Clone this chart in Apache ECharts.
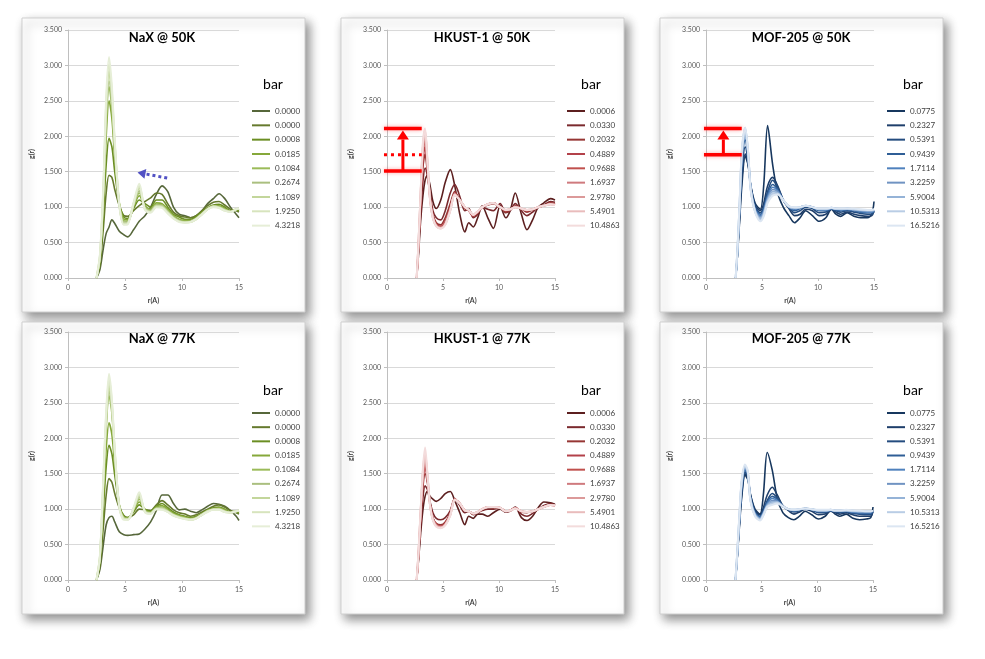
<!DOCTYPE html>
<html><head><meta charset="utf-8">
<script src="https://cdn.jsdelivr.net/npm/echarts@6/dist/echarts.min.js"></script>
<style>html,body{margin:0;padding:0;background:#fff}#c{width:985px;height:659px}</style>
</head><body><div id="c"></div>
<script>
// ---------- data ----------
const NAX_BAR = ['0.0000','0.0000 ','0.0008','0.0185','0.1084','0.2674','1.1089','1.9250','4.3218'];
const HKUST_BAR = ['0.0006','0.0330','0.2032','0.4889','0.9688','1.6937','2.9780','5.4901','10.4863'];
const MOF_BAR = ['0.0775','0.2327','0.5391','0.9439','1.7114','3.2259','5.9004','10.5313','16.5216'];

const NAX_X = [2.5,2.8,3.1,3.35,3.6,3.85,4.1,4.5,4.9,5.25,5.75,6.25,6.75,7.25,7.75,8.25,8.75,9.25,9.75,10.25,10.75,11.25,11.75,12.25,12.75,13.25,13.75,14.25,14.75,15];
const HKUST_X = [2.65,2.8,3.0,3.2,3.4,3.6,3.85,4.1,4.4,4.8,5.2,5.65,6.05,6.5,6.95,7.3,7.7,8.1,8.5,9.0,9.5,10.1,10.6,11.0,11.45,12.0,12.5,13.0,13.5,14.0,14.6,15.0];
const MOF_X = [2.65,2.8,3.0,3.2,3.5,3.75,4.0,4.4,4.85,5.15,5.5,5.95,6.4,6.9,7.4,7.9,8.4,8.9,9.5,10.1,10.7,11.2,11.6,12.0,12.6,13.2,13.8,14.4,14.8,15.0];

const N50_1 = [0,0.12,0.42,0.63,0.72,0.82,0.77,0.66,0.61,0.58,0.68,0.8,0.88,1.0,1.18,1.3,1.22,1.0,0.9,0.88,0.85,0.88,0.95,1.05,1.12,1.19,1.12,1.0,0.9,0.85];
const N50_2 = [0,0.18,0.7,1.2,1.45,1.42,1.25,1.02,0.88,0.87,0.95,1.02,1.08,1.13,1.2,1.18,1.05,0.93,0.88,0.86,0.85,0.88,0.95,1.02,1.07,1.08,1.03,0.97,0.95,0.93];
const N50_3 = [0,0.22,0.9,1.6,1.97,1.85,1.5,1.05,0.86,0.84,0.98,1.1,1.05,1.0,1.1,1.1,1.0,0.9,0.86,0.83,0.83,0.87,0.93,0.99,1.03,1.04,1.0,0.95,0.96,0.95];
const N50_4 = [0,0.25,1.05,2.0,2.5,2.25,1.7,1.05,0.83,0.82,1.0,1.16,1.02,0.97,1.06,1.05,0.97,0.88,0.83,0.81,0.81,0.85,0.92,0.98,1.02,1.02,0.98,0.94,0.96,0.97];
const N50_5 = [0,0.27,1.12,2.18,2.7,2.4,1.8,1.05,0.81,0.8,1.02,1.2,1.0,0.96,1.04,1.03,0.95,0.87,0.82,0.8,0.8,0.84,0.91,0.98,1.02,1.01,0.97,0.94,0.97,0.98];
const N50_6 = [0,0.28,1.15,2.25,2.78,2.45,1.82,1.04,0.79,0.79,1.03,1.23,0.99,0.95,1.03,1.02,0.94,0.86,0.81,0.79,0.8,0.84,0.91,0.98,1.02,1.0,0.96,0.94,0.97,0.98];
const N50_7 = [0,0.3,1.2,2.35,2.92,2.55,1.88,1.04,0.77,0.78,1.04,1.27,0.98,0.94,1.02,1.01,0.93,0.85,0.8,0.79,0.79,0.83,0.9,0.97,1.01,1.0,0.96,0.94,0.97,0.98];
const N50_8 = [0,0.31,1.25,2.45,3.02,2.62,1.9,1.03,0.76,0.77,1.05,1.3,0.97,0.93,1.01,1.0,0.92,0.84,0.8,0.78,0.79,0.83,0.9,0.97,1.01,0.99,0.95,0.93,0.97,0.98];
const N50_9 = [0,0.33,1.3,2.55,3.12,2.7,1.95,1.03,0.75,0.76,1.06,1.33,0.96,0.92,1.0,0.99,0.91,0.84,0.79,0.78,0.79,0.83,0.9,0.97,1.0,0.99,0.95,0.93,0.97,0.98];

const N77_1 = [0,0.15,0.5,0.78,0.88,0.9,0.82,0.68,0.64,0.63,0.64,0.65,0.72,0.82,0.98,1.2,1.2,1.08,0.99,1.0,0.97,0.95,0.99,1.04,1.08,1.07,1.04,0.98,0.9,0.84];
const N77_2 = [0,0.2,0.75,1.2,1.43,1.38,1.22,1.02,0.91,0.88,0.92,1.0,0.99,0.98,1.06,1.12,1.06,0.99,0.95,0.93,0.9,0.92,0.96,1.0,1.04,1.06,1.03,0.98,0.95,0.93];
const N77_3 = [0,0.25,1.0,1.6,1.9,1.78,1.48,1.06,0.9,0.88,0.96,1.06,1.0,0.97,1.04,1.08,1.02,0.96,0.92,0.9,0.88,0.9,0.94,0.99,1.02,1.03,1.0,0.96,0.96,0.95];
const N77_4 = [0,0.28,1.15,1.85,2.22,2.05,1.62,1.05,0.89,0.87,0.98,1.1,0.99,0.96,1.03,1.05,1.0,0.94,0.91,0.89,0.87,0.89,0.93,0.98,1.01,1.02,0.99,0.96,0.97,0.96];
const N77_5 = [0,0.3,1.3,2.15,2.6,2.35,1.75,1.05,0.88,0.87,0.99,1.14,0.98,0.95,1.02,1.03,0.98,0.93,0.9,0.88,0.86,0.88,0.93,0.98,1.0,1.01,0.98,0.95,0.97,0.97];
const N77_6 = [0,0.31,1.33,2.2,2.68,2.4,1.78,1.04,0.87,0.86,1.0,1.17,0.97,0.95,1.01,1.02,0.97,0.92,0.89,0.87,0.86,0.88,0.93,0.97,1.0,1.0,0.97,0.95,0.97,0.97];
const N77_7 = [0,0.32,1.36,2.25,2.75,2.45,1.8,1.04,0.87,0.86,1.0,1.19,0.97,0.94,1.01,1.01,0.97,0.92,0.89,0.87,0.85,0.87,0.92,0.97,1.0,1.0,0.97,0.95,0.97,0.98];
const N77_8 = [0,0.33,1.4,2.32,2.84,2.5,1.82,1.03,0.86,0.85,1.01,1.21,0.96,0.94,1.0,1.0,0.96,0.91,0.88,0.86,0.85,0.87,0.92,0.97,0.99,0.99,0.96,0.95,0.97,0.98];
const N77_9 = [0,0.34,1.45,2.38,2.91,2.55,1.85,1.03,0.85,0.85,1.02,1.24,0.96,0.93,1.0,0.99,0.96,0.91,0.88,0.86,0.85,0.87,0.92,0.96,0.99,0.99,0.96,0.95,0.97,0.98];

const H50_1 = [0,0.3,0.8,1.15,1.38,1.45,1.3,1.08,0.98,1.1,1.35,1.53,1.3,0.9,0.65,0.78,0.72,0.85,1.02,0.85,0.7,1.02,0.85,0.95,1.2,0.9,0.68,0.82,1.0,1.06,1.12,1.1];
const H50_2 = [0,0.35,0.9,1.35,1.55,1.45,1.2,0.95,0.85,0.82,0.95,1.2,1.32,1.15,0.95,0.98,0.85,0.9,1.0,0.97,0.95,1.05,0.92,0.95,1.05,0.95,0.88,0.93,1.0,1.03,1.08,1.07];
const H50_3 = [0,0.38,1.0,1.55,1.75,1.5,1.15,0.9,0.78,0.75,0.85,1.05,1.22,1.1,0.98,0.95,0.87,0.92,1.0,1.03,1.05,1.0,0.93,0.96,1.02,0.98,0.93,0.96,1.0,1.02,1.06,1.05];
const H50_4 = [0,0.4,1.05,1.65,1.85,1.55,1.12,0.88,0.76,0.73,0.8,1.0,1.2,1.1,1.0,0.95,0.88,0.93,1.0,1.04,1.06,1.0,0.95,0.97,1.01,0.98,0.95,0.97,1.0,1.02,1.05,1.04];
const H50_5 = [0,0.42,1.1,1.72,1.95,1.6,1.12,0.87,0.75,0.72,0.78,0.98,1.19,1.1,1.0,0.96,0.88,0.93,1.0,1.04,1.06,1.0,0.95,0.97,1.01,0.98,0.95,0.97,1.0,1.02,1.05,1.04];
const H50_6 = [0,0.43,1.13,1.78,2.0,1.62,1.11,0.86,0.74,0.71,0.77,0.97,1.19,1.1,1.0,0.96,0.89,0.93,1.0,1.04,1.06,1.0,0.96,0.97,1.0,0.98,0.96,0.97,1.0,1.02,1.04,1.04];
const H50_7 = [0,0.44,1.16,1.82,2.05,1.65,1.1,0.85,0.74,0.71,0.76,0.96,1.18,1.1,1.0,0.96,0.89,0.94,1.0,1.04,1.06,1.0,0.96,0.97,1.0,0.98,0.96,0.97,1.0,1.02,1.04,1.03];
const H50_8 = [0,0.45,1.18,1.86,2.08,1.67,1.1,0.85,0.73,0.7,0.76,0.96,1.18,1.1,1.0,0.96,0.89,0.94,1.0,1.04,1.06,1.0,0.96,0.97,1.0,0.98,0.96,0.97,1.0,1.02,1.04,1.03];
const H50_9 = [0,0.46,1.2,1.9,2.11,1.68,1.09,0.84,0.73,0.7,0.75,0.95,1.17,1.1,1.0,0.96,0.89,0.94,1.0,1.04,1.06,1.0,0.96,0.97,1.0,0.98,0.96,0.97,1.0,1.02,1.04,1.03];

const H77_1 = [0,0.25,0.65,0.98,1.18,1.25,1.18,1.14,1.11,1.15,1.22,1.25,1.12,0.95,0.78,0.9,0.87,0.93,0.93,0.9,0.95,1.0,0.96,0.98,1.03,0.88,0.84,0.9,1.02,1.1,1.09,1.07];
const H77_2 = [0,0.28,0.75,1.15,1.33,1.28,1.1,0.95,0.87,0.85,0.88,0.98,1.15,1.05,0.95,0.97,0.92,0.95,0.98,1.0,1.0,1.02,0.96,0.97,1.02,0.93,0.9,0.94,1.0,1.05,1.08,1.06];
const H77_3 = [0,0.3,0.85,1.3,1.5,1.38,1.08,0.88,0.8,0.78,0.82,0.95,1.14,1.08,0.98,0.97,0.93,0.96,1.0,1.03,1.02,1.02,0.97,0.98,1.02,0.96,0.95,0.97,1.0,1.03,1.07,1.05];
const H77_4 = [0,0.31,0.88,1.36,1.6,1.42,1.07,0.87,0.79,0.76,0.8,0.94,1.14,1.08,0.98,0.97,0.94,0.96,1.0,1.03,1.03,1.02,0.97,0.98,1.02,0.97,0.96,0.97,1.0,1.03,1.06,1.05];
const H77_5 = [0,0.32,0.9,1.4,1.65,1.44,1.06,0.86,0.78,0.75,0.79,0.93,1.14,1.08,0.98,0.97,0.94,0.96,1.0,1.03,1.03,1.02,0.97,0.98,1.02,0.97,0.96,0.97,1.0,1.03,1.06,1.05];
const H77_6 = [0,0.33,0.92,1.44,1.7,1.46,1.06,0.86,0.77,0.75,0.79,0.93,1.14,1.08,0.98,0.97,0.94,0.96,1.0,1.03,1.03,1.02,0.97,0.98,1.02,0.97,0.96,0.97,1.0,1.03,1.06,1.05];
const H77_7 = [0,0.34,0.94,1.48,1.75,1.48,1.05,0.85,0.77,0.74,0.78,0.92,1.14,1.08,0.98,0.97,0.94,0.96,1.0,1.03,1.03,1.02,0.97,0.98,1.01,0.97,0.96,0.97,1.0,1.03,1.06,1.05];
const H77_8 = [0,0.35,0.96,1.52,1.8,1.5,1.05,0.85,0.76,0.74,0.78,0.92,1.13,1.08,0.98,0.97,0.94,0.96,1.0,1.03,1.03,1.02,0.97,0.98,1.01,0.97,0.96,0.97,1.0,1.03,1.06,1.05];
const H77_9 = [0,0.36,0.98,1.56,1.87,1.52,1.04,0.84,0.75,0.73,0.77,0.91,1.13,1.08,0.98,0.97,0.94,0.96,1.0,1.03,1.03,1.02,0.97,0.98,1.01,0.97,0.96,0.97,1.0,1.03,1.06,1.05];

const M50_1 = [0,0.3,0.8,1.3,1.72,1.6,1.3,1.05,0.97,1.3,2.15,1.6,1.2,1.0,0.88,0.78,0.85,0.95,0.88,0.8,0.85,0.97,0.9,0.87,0.92,0.87,0.85,0.85,0.9,1.08];
const M50_2 = [0,0.3,0.85,1.4,1.75,1.62,1.3,1.02,0.95,1.05,1.3,1.42,1.3,1.1,0.98,0.88,0.9,0.97,0.95,0.88,0.9,0.97,0.93,0.9,0.93,0.9,0.88,0.87,0.88,0.95];
const M50_3 = [0,0.32,0.9,1.5,1.85,1.65,1.28,1.0,0.92,1.0,1.22,1.38,1.28,1.1,1.0,0.92,0.95,1.0,0.98,0.92,0.93,0.97,0.95,0.93,0.95,0.93,0.91,0.9,0.9,0.93];
const M50_4 = [0,0.33,0.95,1.6,1.95,1.7,1.28,0.98,0.9,0.97,1.18,1.32,1.25,1.1,1.0,0.95,0.98,1.02,1.0,0.95,0.95,0.98,0.96,0.95,0.96,0.95,0.93,0.92,0.92,0.94];
const M50_5 = [0,0.34,0.98,1.65,2.02,1.74,1.27,0.96,0.88,0.95,1.15,1.28,1.23,1.1,1.0,0.97,0.99,1.02,1.0,0.96,0.96,0.98,0.97,0.96,0.97,0.96,0.94,0.93,0.93,0.95];
const M50_6 = [0,0.35,1.0,1.7,2.07,1.76,1.26,0.95,0.86,0.93,1.12,1.25,1.22,1.1,1.0,0.98,1.0,1.02,1.0,0.97,0.97,0.98,0.97,0.97,0.97,0.96,0.95,0.94,0.94,0.96];
const M50_7 = [0,0.36,1.02,1.74,2.1,1.78,1.25,0.94,0.84,0.91,1.1,1.22,1.2,1.1,1.01,0.99,1.0,1.02,1.0,0.97,0.97,0.99,0.98,0.97,0.98,0.97,0.96,0.95,0.95,0.96];
const M50_8 = [0,0.37,1.04,1.77,2.12,1.79,1.24,0.93,0.82,0.89,1.08,1.19,1.19,1.1,1.01,0.99,1.0,1.02,1.0,0.98,0.98,0.99,0.98,0.98,0.98,0.97,0.96,0.96,0.96,0.97];
const M50_9 = [0,0.38,1.06,1.8,2.12,1.8,1.23,0.92,0.8,0.87,1.06,1.16,1.18,1.1,1.01,1.0,1.0,1.02,1.0,0.98,0.98,0.99,0.98,0.98,0.98,0.98,0.97,0.96,0.96,0.97];

const M77_1 = [0,0.3,0.75,1.15,1.48,1.42,1.2,1.0,0.93,1.2,1.8,1.55,1.15,0.95,0.88,0.85,0.9,0.97,0.92,0.86,0.9,0.98,0.93,0.9,0.93,0.87,0.85,0.86,0.88,1.03];
const M77_2 = [0,0.3,0.78,1.2,1.5,1.45,1.2,0.98,0.92,1.02,1.2,1.31,1.2,1.05,0.98,0.93,0.96,1.0,0.97,0.92,0.93,0.97,0.95,0.93,0.95,0.92,0.9,0.9,0.9,0.97];
const M77_3 = [0,0.31,0.8,1.25,1.52,1.47,1.18,0.96,0.9,0.98,1.12,1.22,1.16,1.05,0.99,0.96,0.98,1.01,0.99,0.95,0.95,0.98,0.96,0.95,0.96,0.94,0.93,0.92,0.92,0.97];
const M77_4 = [0,0.32,0.82,1.28,1.55,1.48,1.16,0.95,0.89,0.96,1.1,1.18,1.14,1.04,1.0,0.97,0.99,1.01,0.99,0.96,0.96,0.98,0.97,0.96,0.97,0.95,0.94,0.94,0.94,0.97];
const M77_5 = [0,0.33,0.84,1.3,1.57,1.5,1.15,0.94,0.88,0.95,1.08,1.15,1.12,1.04,1.0,0.98,0.99,1.01,1.0,0.97,0.97,0.98,0.97,0.97,0.97,0.96,0.95,0.95,0.95,0.98];
const M77_6 = [0,0.34,0.86,1.33,1.58,1.51,1.14,0.93,0.87,0.94,1.06,1.12,1.11,1.04,1.0,0.98,1.0,1.01,1.0,0.97,0.97,0.99,0.98,0.97,0.98,0.97,0.96,0.96,0.96,0.98];
const M77_7 = [0,0.35,0.88,1.36,1.6,1.52,1.13,0.92,0.86,0.93,1.05,1.1,1.1,1.04,1.0,0.99,1.0,1.01,1.0,0.98,0.98,0.99,0.98,0.98,0.98,0.97,0.97,0.97,0.97,0.98];
const M77_8 = [0,0.36,0.9,1.38,1.61,1.53,1.12,0.91,0.85,0.92,1.04,1.08,1.09,1.04,1.0,0.99,1.0,1.01,1.0,0.98,0.98,0.99,0.98,0.98,0.98,0.98,0.97,0.97,0.97,0.98];
const M77_9 = [0,0.37,0.92,1.4,1.63,1.54,1.11,0.9,0.84,0.91,1.03,1.06,1.08,1.04,1.0,0.99,1.0,1.01,1.0,0.99,0.99,0.99,0.98,0.98,0.99,0.98,0.98,0.97,0.97,0.98];

// ---------- styles ----------
const GREENS = ['#56673a','#667a2e','#6b8e23','#86a83a','#9bbb59','#aabf7f','#c3d69b','#d7e4bd','#e6eed7'];
const REDS = ['#5c1f1f','#7b2a2e','#963634','#b3414a','#c0504d','#cf7a7e','#dc9a9a','#e9bcbc','#f3dcdc'];
const BLUES = ['#17375e','#1f3f6b','#244c7f','#2f5e96','#4f81bd','#7093c2','#95b3d7','#b9cde5','#dce6f2'];

const PANELS = [
  {title:'NaX @ 50K', X:NAX_X, Y:[N50_1,N50_2,N50_3,N50_4,N50_5,N50_6,N50_7,N50_8,N50_9], names:NAX_BAR, colors:GREENS},
  {title:'HKUST-1 @ 50K', X:HKUST_X, Y:[H50_1,H50_2,H50_3,H50_4,H50_5,H50_6,H50_7,H50_8,H50_9], names:HKUST_BAR, colors:REDS},
  {title:'MOF-205 @ 50K', X:MOF_X, Y:[M50_1,M50_2,M50_3,M50_4,M50_5,M50_6,M50_7,M50_8,M50_9], names:MOF_BAR, colors:BLUES},
  {title:'NaX @ 77K', X:NAX_X, Y:[N77_1,N77_2,N77_3,N77_4,N77_5,N77_6,N77_7,N77_8,N77_9], names:NAX_BAR, colors:GREENS},
  {title:'HKUST-1 @ 77K', X:HKUST_X, Y:[H77_1,H77_2,H77_3,H77_4,H77_5,H77_6,H77_7,H77_8,H77_9], names:HKUST_BAR, colors:REDS},
  {title:'MOF-205 @ 77K', X:MOF_X, Y:[M77_1,M77_2,M77_3,M77_4,M77_5,M77_6,M77_7,M77_8,M77_9], names:MOF_BAR, colors:BLUES}
];

const LAYOUT = [
  {box:[22,18,283,294], grid:{left:68,top:30,width:171,height:248}, title:[162,38], bar:[273,84], legend:{left:252,top:106,gap:4.33}},
  {box:[341,18,283,294], grid:{left:387,top:30,width:168,height:248}, title:[482,38], bar:[591,84], legend:{left:567,top:106,gap:4.33}},
  {box:[660,18,283,294], grid:{left:706,top:30,width:168,height:248}, title:[801,38], bar:[913,84], legend:{left:887,top:106,gap:4.33}},
  {box:[22,322,283,292], grid:{left:68,top:332,width:171,height:248}, title:[162,339], bar:[273,390], legend:{left:252,top:408,gap:4.17}},
  {box:[341,322,283,292], grid:{left:387,top:332,width:168,height:248}, title:[482,339], bar:[591,390], legend:{left:567,top:408,gap:4.17}},
  {box:[660,322,283,292], grid:{left:706,top:332,width:167,height:248}, title:[801,339], bar:[913,390], legend:{left:887,top:408,gap:4.17}}
];

const FONT = 'Lato, "Open Sans", sans-serif';
const grids=[], xAxes=[], yAxes=[], legends=[], series=[], graphics=[];

PANELS.forEach((p,i)=>{
  const L = LAYOUT[i];
  grids.push(Object.assign({containLabel:false, outerBoundsMode:'none'}, L.grid));
  xAxes.push({gridIndex:i, type:'value', min:0, max:15, interval:5,
    name:'r(A)', nameLocation:'middle', nameGap:19,
    nameTextStyle:{fontSize:7, fontWeight:'bold', color:'#404040', fontFamily:FONT},
    axisLine:{show:true, lineStyle:{color:'#bfbfbf'}},
    axisTick:{show:true, length:3, lineStyle:{color:'#bfbfbf'}},
    axisLabel:{fontSize:7, color:'#595959', margin:6, fontFamily:FONT},
    splitLine:{show:false}});
  yAxes.push({gridIndex:i, type:'value', min:0, max:3.5, interval:0.5,
    name:'g(r)', nameLocation:'middle', nameGap:33, nameRotate:90,
    nameTextStyle:{fontSize:7, fontWeight:'bold', color:'#404040', fontFamily:FONT},
    axisLine:{show:true, lineStyle:{color:'#bfbfbf'}},
    axisTick:{show:true, length:3, lineStyle:{color:'#bfbfbf'}},
    axisLabel:{fontSize:7, color:'#595959', margin:6, fontFamily:FONT, formatter:v=>v.toFixed(3)},
    splitLine:{show:true, lineStyle:{color:'#d9d9d9', width:1}}});
  legends.push({left:L.legend.left, top:L.legend.top, orient:'vertical', padding:0,
    itemWidth:18, itemHeight:2, itemGap:L.legend.gap, icon:'rect', selectedMode:false,
    textStyle:{fontSize:8, lineHeight:10, color:'#404040', fontFamily:FONT},
    data:p.names.slice()});
  p.Y.forEach((ys,k)=>{
    series.push({type:'line', name:p.names[k], xAxisIndex:i, yAxisIndex:i,
      data:p.X.map((x,j)=>[x, ys[j]]), showSymbol:false, symbol:'none', smooth:0.3,
      lineStyle:{width:k>5?2:1.6, color:p.colors[k]}, itemStyle:{color:p.colors[k]},
      emphasis:{disabled:true}, z:2});
  });
  const b = L.box;
  graphics.push({id:'box'+i, type:'rect', z:-10, silent:true,
    shape:{x:b[0], y:b[1], width:b[2], height:b[3]},
    style:{fill:'#ffffff', stroke:'#cfcfcf', lineWidth:1, shadowBlur:10, shadowOffsetX:4, shadowOffsetY:5, shadowColor:'rgba(0,0,0,0.45)'}});
  graphics.push({id:'title'+i, type:'text', z:50, silent:true,
    style:{text:p.title, x:L.title[0], y:L.title[1], align:'center', verticalAlign:'middle',
      font:'bold 13px '+FONT, fill:'#000'}});
  graphics.push({id:'bar'+i, type:'text', z:50, silent:true,
    style:{text:'bar', x:L.bar[0], y:L.bar[1], align:'center', verticalAlign:'middle',
      font:'14px '+FONT, fill:'#000'}});
});

const chart = echarts.init(document.getElementById('c'), null, {renderer:'canvas'});
chart.setOption({animation:false, backgroundColor:'#ffffff',
  grid:grids, xAxis:xAxes, yAxis:yAxes, legend:legends, series:series, graphic:graphics});

// ---------- annotations (data coords converted through the axes) ----------
const ANN_BLUE = {grid:0, from:[8.7,1.41], to:[6.1,1.49], color:'#5151c4'};
const ANN_RED = [
  {grid:1, x0:-0.27, x1:3.1, top:2.11, bottom:1.51, dotted:1.74, arrowX:1.42},
  {grid:2, x0:-0.18, x1:3.19, top:2.11, bottom:1.74, dotted:null, arrowX:1.55}
];
const P = (g,pt)=>chart.convertToPixel({gridIndex:g}, pt);
const extra = [];
(function(){
  const a = P(ANN_BLUE.grid, ANN_BLUE.from), h = P(ANN_BLUE.grid, ANN_BLUE.to);
  const dx=h[0]-a[0], dy=h[1]-a[1], len=Math.hypot(dx,dy), ux=dx/len, uy=dy/len, nx=-uy, ny=ux;
  const bx=h[0]-ux*8, by=h[1]-uy*8;
  extra.push({id:'blueLine', type:'line', z:60, silent:true, shape:{x1:a[0],y1:a[1],x2:bx,y2:by},
    style:{stroke:ANN_BLUE.color, lineWidth:3, lineDash:[3,3]}});
  extra.push({id:'blueHead', type:'polygon', z:60, silent:true,
    shape:{points:[[h[0],h[1]],[bx+nx*5,by+ny*5],[bx-nx*5,by-ny*5]]}, style:{fill:ANN_BLUE.color}});
})();
ANN_RED.forEach((r,i)=>{
  const red='#ff0000', glow='rgba(255,0,0,0.35)';
  const t0=P(r.grid,[r.x0,r.top]), t1=P(r.grid,[r.x1,r.top]);
  const b0=P(r.grid,[r.x0,r.bottom]), b1=P(r.grid,[r.x1,r.bottom]);
  const ax=P(r.grid,[r.arrowX,r.top])[0];
  extra.push({id:'rt'+i, type:'line', z:60, silent:true, shape:{x1:t0[0],y1:t0[1],x2:t1[0],y2:t1[1]},
    style:{stroke:red, lineWidth:3.5, shadowBlur:4, shadowColor:glow}});
  extra.push({id:'rb'+i, type:'line', z:60, silent:true, shape:{x1:b0[0],y1:b0[1],x2:b1[0],y2:b1[1]},
    style:{stroke:red, lineWidth:3.5, shadowBlur:4, shadowColor:glow}});
  if (r.dotted !== null) {
    const d0=P(r.grid,[r.x0,r.dotted]), d1=P(r.grid,[r.x1,r.dotted]);
    extra.push({id:'rd'+i, type:'line', z:60, silent:true, shape:{x1:d0[0],y1:d0[1],x2:d1[0],y2:d1[1]},
      style:{stroke:red, lineWidth:3, lineDash:[3,4]}});
  }
  const tipY=t0[1]+2, baseY=tipY+9;
  extra.push({id:'rs'+i, type:'line', z:60, silent:true, shape:{x1:ax,y1:b0[1],x2:ax,y2:baseY},
    style:{stroke:red, lineWidth:3}});
  extra.push({id:'rh'+i, type:'polygon', z:60, silent:true,
    shape:{points:[[ax,tipY],[ax-6,baseY],[ax+6,baseY]]}, style:{fill:red}});
});
chart.setOption({graphic:extra});
</script>
</body></html>
